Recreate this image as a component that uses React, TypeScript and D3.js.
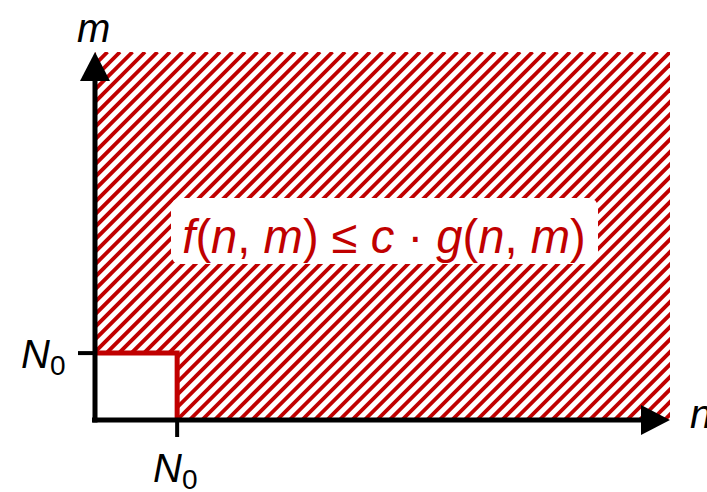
import React from "react";
import * as d3 from "d3";

const xDomain: [number, number] = [0, 7];
const yDomain: [number, number] = [0, 5.5];
const n0Value = 1;
const axisLabels = ["n", "m"];
const tickLabel = "N";
const tickSub = "0";
const conditionParts = [
  { t: "f", i: true }, { t: "(", i: false }, { t: "n", i: true }, { t: ", ", i: false },
  { t: "m", i: true }, { t: ") ≤ ", i: false }, { t: "c", i: true }, { t: " · ", i: false },
  { t: "g", i: true }, { t: "(", i: false }, { t: "n", i: true }, { t: ", ", i: false },
  { t: "m", i: true }, { t: ")", i: false },
];

const RED = "#c00000";
const FONT = "'Liberation Sans', Arial, sans-serif";

export default function App() {
  const W = 707, H = 492;
  const x = d3.scaleLinear().domain(xDomain).range([95, 670]);
  const y = d3.scaleLinear().domain(yDomain).range([420, 52]);
  const x0 = x(0), y0 = y(0), x1 = x(xDomain[1]), y1 = y(yDomain[1]);
  const nx = x(n0Value), ny = y(n0Value);

  const hatchPath = d3.path();
  hatchPath.moveTo(x0, y1);
  hatchPath.lineTo(x1, y1);
  hatchPath.lineTo(x1, y0);
  hatchPath.lineTo(nx, y0);
  hatchPath.lineTo(nx, ny);
  hatchPath.lineTo(x0, ny);
  hatchPath.closePath();

  const boxLine = d3.line<[number, number]>()([[x0, ny], [nx, ny], [nx, y0]]) || "";

  const period = 12.5;
  const consts = d3.range(x0 + y1, x1 + y0 + period, period);

  return (
    <svg width={W} height={H} style={{ position: "absolute", left: 0, top: 0 }}>
      <defs>
        <clipPath id="hclip">
          <path d={hatchPath.toString()} />
        </clipPath>
      </defs>
      <rect width={W} height={H} fill="#fff" />
      <g clipPath="url(#hclip)">
        {consts.map((c, i) => (
          <line key={i} x1={c - y0} y1={y0} x2={c - y1} y2={y1} stroke={RED} strokeWidth={3.8} />
        ))}
      </g>
      <path d={boxLine} fill="none" stroke={RED} strokeWidth={5} />
      {/* axes */}
      <line x1={x0 - 3} y1={y0} x2={x1 - 26} y2={y0} stroke="#000" strokeWidth={5} />
      <line x1={x0} y1={y0 + 2.5} x2={x0} y2={y1 + 26} stroke="#000" strokeWidth={5} />
      <path d={`M${x1},${y0} L${x1 - 29},${y0 - 15} L${x1 - 29},${y0 + 15} Z`} fill="#000" />
      <path d={`M${x0},${y1} L${x0 - 15},${y1 + 29} L${x0 + 15},${y1 + 29} Z`} fill="#000" />
      {/* ticks */}
      <line x1={x0 - 17} y1={ny} x2={x0} y2={ny} stroke="#000" strokeWidth={4} />
      <line x1={nx} y1={y0} x2={nx} y2={y0 + 17} stroke="#000" strokeWidth={4} />
      {/* labels */}
      <text x={x0 - 18} y={42} fontFamily={FONT} fontSize={40} fontStyle="italic" fill="#000">{axisLabels[1]}</text>
      <text x={690} y={428} fontFamily={FONT} fontSize={40} fontStyle="italic" fill="#000">{axisLabels[0]}</text>
      <text x={21} y={368} fontFamily={FONT} fontSize={40} fill="#000">
        <tspan fontStyle="italic">{tickLabel}</tspan>
        <tspan fontSize={28} dy={7}>{tickSub}</tspan>
      </text>
      <text x={153} y={482} fontFamily={FONT} fontSize={40} fill="#000">
        <tspan fontStyle="italic">{tickLabel}</tspan>
        <tspan fontSize={28} dy={7}>{tickSub}</tspan>
      </text>
      {/* condition box */}
      <rect x={171} y={198} width={427} height={66} rx={9} fill="#fff" />
      <text x={384} y={253} textAnchor="middle" fontFamily={FONT} fontSize={47.2} fill={RED} xmlSpace="preserve">
        {conditionParts.map((p, i) => (
          <tspan key={i} fontStyle={p.i ? "italic" : "normal"}>{p.t}</tspan>
        ))}
      </text>
    </svg>
  );
}
